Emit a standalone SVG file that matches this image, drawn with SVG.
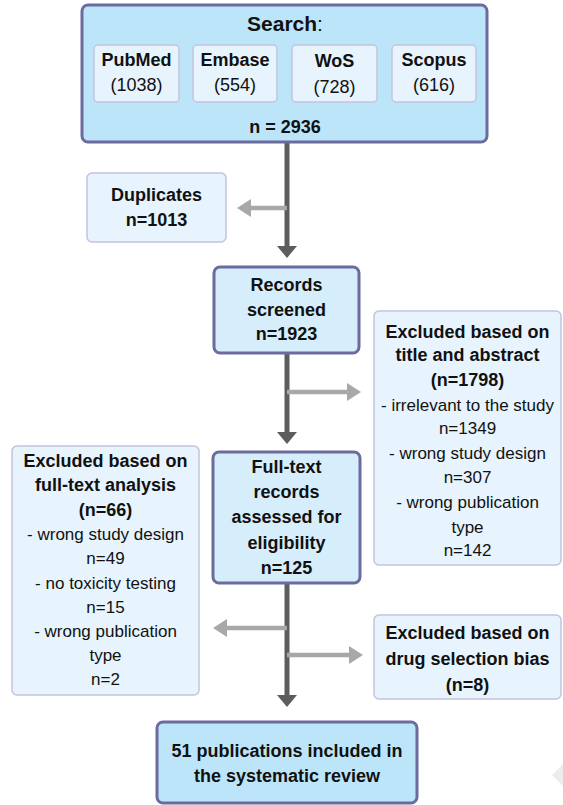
<svg xmlns="http://www.w3.org/2000/svg" width="563" height="805" viewBox="0 0 563 805">
<style>
text{font-family:"Liberation Sans",Arial,sans-serif;text-anchor:middle;fill:#111}
.b{font-weight:bold;font-size:18px}
.r{font-size:17px}
.rs{font-size:18px}
.main{fill:#bde5fa;stroke:#6b6b9d;stroke-width:3}
.mid{fill:#d6eefc;stroke:#6b6b9d;stroke-width:3}
.light{fill:#e7f4fd;stroke:#c3c3dd;stroke-width:1.5}
.dk{stroke:#5d5d5d;stroke-width:5;fill:none}
.lt{stroke:#a8a8a8;stroke-width:4.5;fill:none}
</style>
<defs>
<marker id="hd" viewBox="0 0 12 20" refX="0" refY="10" markerWidth="12" markerHeight="20" markerUnits="userSpaceOnUse" orient="auto"><path d="M0,0 L12,10 L0,20 z" fill="#5d5d5d"/></marker>
<marker id="hl" viewBox="0 0 14 18" refX="0" refY="9" markerWidth="14" markerHeight="18" markerUnits="userSpaceOnUse" orient="auto"><path d="M0,0 L14,9 L0,18 z" fill="#a8a8a8"/></marker>
</defs>
<g id="connectors">
<path class="dk" d="M287,143 V246" marker-end="url(#hd)"/>
<path class="lt" d="M287,208 H251" marker-end="url(#hl)"/>
<path class="dk" d="M287,354 V432" marker-end="url(#hd)"/>
<path class="lt" d="M287,392 H347" marker-end="url(#hl)"/>
<path class="dk" d="M287,584 V695" marker-end="url(#hd)"/>
<path class="lt" d="M287,628 H227" marker-end="url(#hl)"/>
<path class="lt" d="M287,655 H349" marker-end="url(#hl)"/>
</g>
<g id="search">
<rect class="main" x="82" y="5" width="405" height="137" rx="6"/>
<text x="285" y="31" style="font-size:21px"><tspan font-weight="bold">Search</tspan>:</text>
<rect class="light" x="94" y="45" width="85" height="57" rx="4"/>
<rect class="light" x="193" y="45" width="84" height="57" rx="4"/>
<rect class="light" x="292" y="45" width="85" height="57" rx="4"/>
<rect class="light" x="392" y="45" width="84" height="57" rx="4"/>
<text class="b" x="136.5" y="66">PubMed</text>
<text class="rs" x="136.5" y="91">(1038)</text>
<text class="b" x="235" y="66">Embase</text>
<text class="rs" x="235" y="91">(554)</text>
<text class="b" x="334.5" y="67">WoS</text>
<text class="rs" x="334.5" y="93">(728)</text>
<text class="b" x="434" y="66">Scopus</text>
<text class="rs" x="434" y="91">(616)</text>
<text class="b" x="285" y="133">n = 2936</text>
</g>
<g id="duplicates">
<rect class="light" x="87" y="173" width="139" height="69" rx="5"/>
<text class="b" x="156.5" y="201">Duplicates</text>
<text class="b" x="156.5" y="226">n=1013</text>
</g>
<g id="screened">
<rect class="mid" x="214" y="267" width="145" height="86" rx="6"/>
<text class="b" x="286.5" y="291">Records</text>
<text class="b" x="286.5" y="316">screened</text>
<text class="b" x="286.5" y="340">n=1923</text>
</g>
<g id="excluded-title">
<rect class="light" x="374" y="311" width="187" height="254" rx="5"/>
<text class="b" x="467.5" y="338">Excluded based on</text>
<text class="b" x="467.5" y="361">title and abstract</text>
<text class="b" x="467.5" y="386">(n=1798)</text>
<text class="r" x="467.5" y="411">- irrelevant to the study</text>
<text class="r" x="467.5" y="434">n=1349</text>
<text class="r" x="467.5" y="459">- wrong study design</text>
<text class="r" x="467.5" y="483">n=307</text>
<text class="r" x="467.5" y="508">- wrong publication</text>
<text class="r" x="467.5" y="533">type</text>
<text class="r" x="467.5" y="556">n=142</text>
</g>
<g id="fulltext">
<rect class="mid" x="213" y="452" width="147" height="131" rx="6"/>
<text class="b" x="286.5" y="473">Full-text</text>
<text class="b" x="286.5" y="498">records</text>
<text class="b" x="286.5" y="523">assessed for</text>
<text class="b" x="286.5" y="549">eligibility</text>
<text class="b" x="286.5" y="574">n=125</text>
</g>
<g id="excluded-fulltext">
<rect class="light" x="12" y="446" width="187" height="249" rx="5"/>
<text class="b" x="105.5" y="467">Excluded based on</text>
<text class="b" x="105.5" y="491">full-text analysis</text>
<text class="b" x="105.5" y="516">(n=66)</text>
<text class="r" x="105.5" y="540">- wrong study design</text>
<text class="r" x="105.5" y="564">n=49</text>
<text class="r" x="105.5" y="589">- no toxicity testing</text>
<text class="r" x="105.5" y="613">n=15</text>
<text class="r" x="105.5" y="637">- wrong publication</text>
<text class="r" x="105.5" y="661">type</text>
<text class="r" x="105.5" y="685">n=2</text>
</g>
<g id="excluded-drug">
<rect class="light" x="374" y="615" width="187" height="84" rx="5"/>
<text class="b" x="467.5" y="639">Excluded based on</text>
<text class="b" x="467.5" y="665">drug selection bias</text>
<text class="b" x="467.5" y="691">(n=8)</text>
</g>
<g id="included">
<rect class="main" x="157" y="722" width="260" height="81" rx="6"/>
<text class="b" x="287" y="757">51 publications included in</text>
<text class="b" x="287" y="782">the systematic review</text>
</g>
<polygon points="563,764 552,775 563,786" fill="#ececec"/>
</svg>
